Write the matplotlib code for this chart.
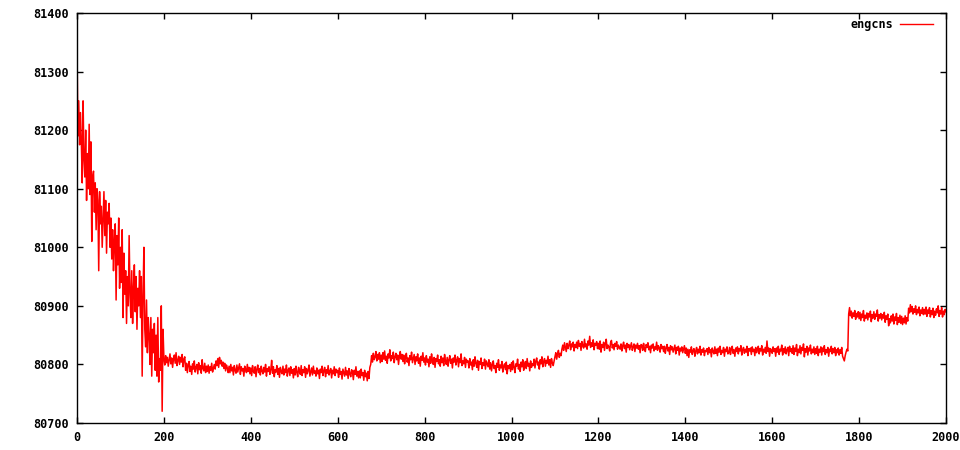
import numpy as np
import matplotlib
matplotlib.use('Agg')
import matplotlib.pyplot as plt

# engcns values, every 2nd step, one row per 50 steps
engcns = [
    81345, 81190, 81250, 81175, 81230, 81180, 81110, 81250, 81150, 81120, 81200, 81080, 81160, 81100, 81210, 81090, 81180, 81010, 81120, 81130, 81060, 81110, 81030, 81100, 81080,
    80960, 81095, 81040, 81070, 81000, 81050, 81095, 81020, 81080, 80990, 81060, 81040, 81075, 81000, 81050, 80980, 81030, 80960, 81010, 81040, 80910, 81020, 80970, 81050, 80930,
    81000, 80940, 81030, 80880, 80990, 80920, 80960, 80870, 80950, 80900, 81020, 80920, 80880, 80960, 80870, 80930, 80970, 80890, 80950, 80860, 80930, 80900, 80960, 80880, 80950,
    80780, 80920, 81000, 80860, 80830, 80910, 80820, 80880, 80850, 80800, 80880, 80780, 80860, 80820, 80870, 80790, 80850, 80780, 80880, 80770, 80810, 80790, 80900, 80720, 80860,
    80810, 80799, 80815, 80803, 80812, 80797, 80808, 80818, 80801, 80811, 80795, 80809, 80816, 80802, 80820, 80798, 80807, 80814, 80800, 80812, 80804, 80817, 80796, 80809, 80813,
    80790, 80802, 80786, 80799, 80805, 80788, 80797, 80783, 80801, 80792, 80806, 80787, 80795, 80800, 80784, 80803, 80791, 80798, 80785, 80808, 80793, 80789, 80802, 80786, 80797,
    80788, 80799, 80785, 80796, 80790, 80802, 80787, 80794, 80800, 80792, 80806, 80798, 80810, 80795, 80812, 80801, 80807, 80797, 80804, 80793, 80802, 80789, 80799, 80794, 80786,
    80797, 80786, 80800, 80789, 80795, 80782, 80798, 80790, 80785, 80799, 80787, 80794, 80801, 80783, 80796, 80789, 80793, 80780, 80797, 80791, 80786, 80800, 80788, 80795, 80784,
    80794, 80781, 80798, 80788, 80785, 80796, 80779, 80792, 80799, 80786, 80793, 80782, 80797, 80789, 80784, 80795, 80787, 80800, 80780, 80793, 80788, 80796, 80783, 80791, 80807,
    80785, 80796, 80779, 80791, 80787, 80798, 80783, 80793, 80778, 80795, 80788, 80784, 80797, 80782, 80792, 80786, 80799, 80780, 80790, 80794, 80781, 80796, 80785, 80791, 80777,
    80793, 80782, 80797, 80786, 80779, 80795, 80788, 80783, 80798, 80781, 80791, 80786, 80796, 80778, 80793, 80784, 80790, 80799, 80780, 80787, 80794, 80782, 80797, 80785, 80789,
    80780, 80794, 80784, 80790, 80776, 80792, 80786, 80797, 80781, 80789, 80795, 80779, 80791, 80785, 80798, 80782, 80788, 80793, 80777, 80790, 80784, 80796, 80781, 80792, 80786,
    80790, 80778, 80794, 80783, 80788, 80775, 80792, 80786, 80780, 80795, 80782, 80789, 80776, 80793, 80784, 80779, 80791, 80787, 80774, 80790, 80783, 80796, 80780, 80788, 80777,
    80789, 80777, 80792, 80781, 80786, 80773, 80790, 80779, 80785, 80772, 80788, 80776, 80795, 80800, 80815, 80804, 80819, 80808, 80813, 80822, 80806, 80817, 80809, 80820, 80803,
    80816, 80805, 80820, 80809, 80823, 80807, 80814, 80802, 80818, 80811, 80825, 80806, 80815, 80810, 80821, 80803, 80813, 80819, 80808, 80816, 80800, 80814, 80822, 80809, 80817,
    80805, 80816, 80801, 80812, 80819, 80804, 80811, 80798, 80815, 80808, 80821, 80803, 80810, 80817, 80800, 80813, 80806, 80818, 80802, 80811, 80797, 80814, 80807, 80820, 80804,
    80811, 80799, 80815, 80804, 80809, 80796, 80813, 80802, 80818, 80807, 80800, 80812, 80795, 80810, 80805, 80816, 80801, 80808, 80797, 80814, 80803, 80811, 80798, 80817, 80806,
    80800, 80812, 80797, 80808, 80815, 80802, 80809, 80794, 80811, 80804, 80816, 80799, 80807, 80813, 80796, 80810, 80803, 80818, 80798, 80806, 80801, 80812, 80795, 80809, 80804,
    80806, 80794, 80810, 80799, 80804, 80791, 80808, 80797, 80813, 80802, 80795, 80807, 80790, 80805, 80800, 80811, 80793, 80803, 80798, 80809, 80792, 80806, 80801, 80796, 80808,
    80792, 80803, 80789, 80800, 80806, 80793, 80798, 80786, 80802, 80795, 80808, 80790, 80799, 80794, 80805, 80787, 80797, 80801, 80791, 80804, 80784, 80798, 80793, 80800, 80788,
    80803, 80791, 80806, 80795, 80786, 80801, 80797, 80809, 80792, 80800, 80788, 80804, 80796, 80808, 80790, 80799, 80805, 80793, 80810, 80797, 80802, 80789, 80806, 80795, 80801,
    80798, 80809, 80794, 80806, 80811, 80799, 80804, 80792, 80808, 80801, 80813, 80796, 80805, 80810, 80797, 80807, 80802, 80814, 80799, 80808, 80795, 80810, 80803, 80798, 80806,
    80813, 80820, 80809, 80818, 80824, 80812, 80819, 80815, 80826, 80833, 80824, 80837, 80829, 80822, 80836, 80827, 80833, 80840, 80825, 80835, 80830, 80838, 80823, 80834, 80829,
    80838, 80827, 80841, 80831, 80836, 80824, 80839, 80832, 80828, 80843, 80830, 80835, 80826, 80840, 80833, 80848, 80829, 80837, 80831, 80842, 80825, 80836, 80833, 80839, 80827,
    80836, 80826, 80840, 80821, 80834, 80829, 80838, 80824, 80835, 80843, 80827, 80833, 80830, 80823, 80837, 80841, 80828, 80834, 80825, 80836, 80831, 80839, 80826, 80833, 80829,
    80826, 80835, 80823, 80832, 80838, 80827, 80833, 80821, 80836, 80829, 80834, 80825, 80831, 80837, 80824, 80830, 80835, 80822, 80833, 80828, 80836, 80826, 80832, 80820, 80834,
    80833, 80824, 80836, 80827, 80822, 80834, 80829, 80837, 80825, 80831, 80820, 80833, 80828, 80835, 80823, 80830, 80826, 80838, 80824, 80832, 80829, 80821, 80834, 80827, 80831,
    80822, 80831, 80819, 80828, 80834, 80823, 80829, 80817, 80832, 80825, 80830, 80821, 80827, 80833, 80818, 80829, 80824, 80831, 80816, 80828, 80823, 80830, 80820, 80826, 80832,
    80819, 80828, 80815, 80826, 80812, 80825, 80821, 80830, 80817, 80824, 80827, 80814, 80823, 80829, 80818, 80826, 80820, 80831, 80816, 80825, 80821, 80828, 80815, 80824, 80822,
    80827, 80817, 80829, 80820, 80825, 80813, 80828, 80822, 80818, 80830, 80819, 80826, 80815, 80828, 80821, 80831, 80817, 80824, 80820, 80829, 80814, 80826, 80822, 80830, 80818,
    80820, 80829, 80817, 80826, 80831, 80819, 80825, 80814, 80828, 80822, 80830, 80818, 80827, 80823, 80832, 80816, 80825, 80829, 80819, 80826, 80821, 80831, 80815, 80827, 80823,
    80828, 80817, 80830, 80822, 80826, 80815, 80829, 80820, 80825, 80831, 80818, 80827, 80823, 80832, 80816, 80826, 80821, 80829, 80819, 80840, 80822, 80828, 80814, 80827, 80824,
    80819, 80830, 80822, 80827, 80814, 80828, 80821, 80831, 80817, 80826, 80823, 80833, 80816, 80827, 80820, 80830, 80818, 80825, 80829, 80815, 80831, 80822, 80827, 80819, 80832,
    80817, 80828, 80822, 80834, 80815, 80826, 80820, 80832, 80818, 80829, 80824, 80835, 80813, 80827, 80821, 80831, 80816, 80828, 80823, 80833, 80818, 80826, 80820, 80830, 80817,
    80827, 80819, 80831, 80815, 80826, 80821, 80830, 80816, 80828, 80822, 80832, 80817, 80825, 80820, 80829, 80814, 80826, 80822, 80831, 80818, 80827, 80820, 80829, 80815, 80825,
    80820, 80828, 80816, 80825, 80819, 80829, 80814, 80810, 80806, 80815, 80821, 80826, 80823, 80886, 80897, 80883, 80891, 80879, 80888, 80882, 80892, 80877, 80887, 80881, 80890,
    80878, 80889, 80875, 80886, 80880, 80892, 80874, 80884, 80879, 80888, 80876, 80887, 80881, 80891, 80873, 80885, 80879, 80890, 80877, 80886, 80882, 80893, 80874, 80885, 80879,
    80887, 80876, 80885, 80879, 80889, 80872, 80883, 80877, 80886, 80866, 80878, 80871, 80883, 80874, 80886, 80869, 80881, 80875, 80887, 80868, 80880, 80872, 80884, 80870, 80882,
    80868, 80879, 80871, 80883, 80869, 80880, 80874, 80896, 80888, 80902, 80890, 80899, 80886, 80895, 80889, 80900, 80885, 80894, 80888, 80898, 80883, 80893, 80887, 80897, 80885,
    80894, 80886, 80898, 80882, 80893, 80887, 80897, 80881, 80892, 80885, 80896, 80880, 80891, 80884, 80895, 80888, 80900, 80882, 80892, 80886, 80897, 80881, 80891, 80885, 80894,
    80890,
]
steps = np.arange(len(engcns)) * 2

xticks = [0, 200, 400, 600, 800, 1000, 1200, 1400, 1600, 1800, 2000]
yticks = [80700, 80800, 80900, 81000, 81100, 81200, 81300, 81400]

plt.rcParams['font.family'] = ['DejaVu Sans Mono']
plt.rcParams['font.weight'] = 'bold'

fig = plt.figure(figsize=(9.6, 4.5), dpi=100)
ax = fig.add_axes([77 / 960, 27 / 450, (946 - 77) / 960, (423 - 13) / 450])

ax.plot(steps, engcns, color='#ff0000', lw=1.1, label='engcns')

ax.set_xlim(0, 2000)
ax.set_ylim(80700, 81400)
ax.set_xticks(xticks)
ax.set_yticks(yticks)
ax.tick_params(direction='in', length=4, width=1, top=True, right=True,
               labelsize=8.5, pad=6)
for s in ax.spines.values():
    s.set_linewidth(1)

# gnuplot style key: text first, then the line sample
leg = ax.legend(loc='upper right', bbox_to_anchor=(0.991, 1.0), frameon=False,
                markerfirst=False, handlelength=2.8, handletextpad=0.6,
                prop={'size': 8.5, 'weight': 'bold'}, borderaxespad=0)
leg.get_lines()[0].set_linewidth(1.0)

fig.savefig('out.png', dpi=100)
